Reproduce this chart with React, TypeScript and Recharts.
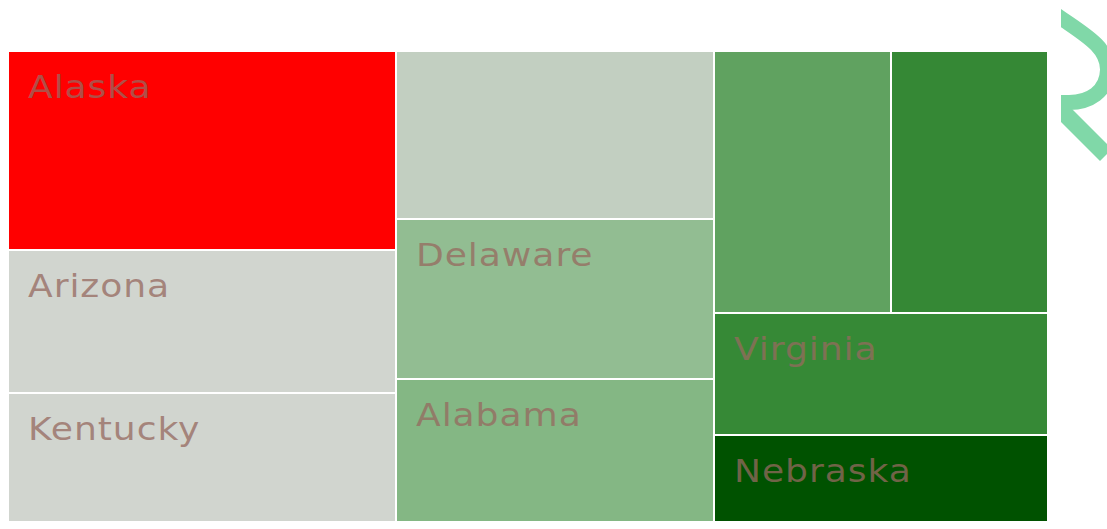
import { Treemap } from 'recharts';

// states, in the order the squarified layout places them
const stateNames = ['Alaska', 'Arizona', 'Kentucky', '', 'Delaware', 'Alabama', '', '', 'Virginia', 'Nebraska'];
const stateValues = [772, 555, 613, 534, 509, 547, 464, 411, 407, 388];
const stateColors = [
  '#ff0000',
  '#d1d5cf',
  '#d1d5cf',
  '#c2cfc1',
  '#92bd92',
  '#84b784',
  '#60a260',
  '#358835',
  '#368936',
  '#005200',
];

const treeData = stateNames.map((name, i) => ({ name, value: stateValues[i] }));

function StateCell(props: any) {
  const { x, y, width, height, name, index, depth } = props;
  if (depth !== 1) return null;
  return (
    <g>
      <rect
        x={x}
        y={y}
        width={width}
        height={height}
        fill={stateColors[index]}
        stroke="#fff"
        strokeWidth={2}
      />
      {name ? (
        <text
          transform={`translate(${x + 20},${y + 47}) scale(1.13,1)`}
          fontFamily="DejaVu Sans, Verdana, sans-serif"
          fontSize={32}
          letterSpacing={0.8}
          fill="rgb(150,105,95)"
          fillOpacity={0.75}
        >
          {name}
        </text>
      ) : null}
    </g>
  );
}

export default function App() {
  return (
    <div style={{ position: 'relative', width: 1091, height: 513, overflow: 'hidden' }}>
      <div style={{ position: 'absolute', left: 0, top: 43 }}>
        <Treemap
          width={1040}
          height={500}
          data={treeData}
          dataKey="value"
          isAnimationActive={false}
          content={<StateCell />}
        />
      </div>
      <svg
        width={46}
        height={178}
        style={{ position: 'fixed', left: 1061, top: 0 }}
      >
        <path
          d="M -10 11 C 20 33, 47 45, 46.5 70 C 46 92, 28 102.5, 8 102.5 L -10 102.5"
          fill="none"
          stroke="#80d8a8"
          strokeWidth={15}
        />
        <path d="M -10 100 L 45 155" fill="none" stroke="#80d8a8" strokeWidth={17} />
      </svg>
    </div>
  );
}
